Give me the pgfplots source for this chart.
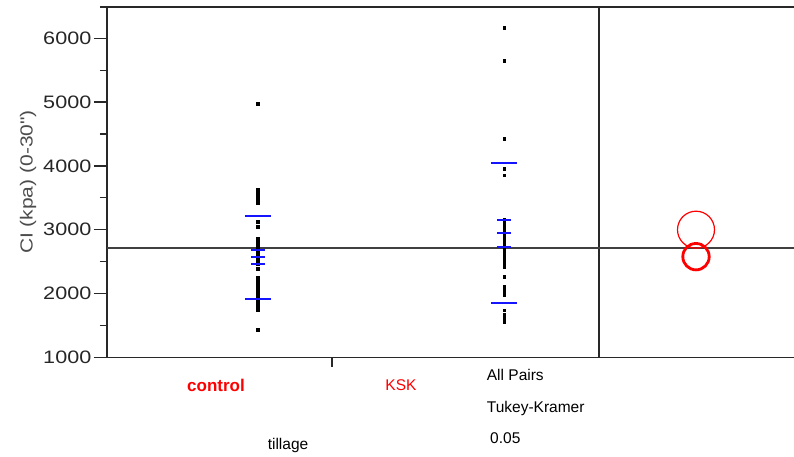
\documentclass[border=0pt]{standalone}
\usepackage{pgfplots}
\pgfplotsset{compat=1.18}
\usepackage{fontspec}
\setmainfont{Liberation Sans}
\newfontfamily\widefont[FakeStretch=1.2]{Liberation Sans}
\definecolor{axgray}{RGB}{40,40,40}
\definecolor{jmpred}{RGB}{255,0,0}
\definecolor{jmpblue}{RGB}{20,20,255}
\begin{document}
\begin{tikzpicture}
\useasboundingbox (-107pt,-99.7pt) rectangle (687pt,357.3pt);
\begin{axis}[
  at={(0pt,0pt)}, anchor=south west,
  scale only axis, width=492pt, height=350.3pt,
  xmin=107, xmax=599, ymin=1000, ymax=6490,
  ytick={1000,2000,3000,4000,5000,6000},
  minor y tick num=1,
  xtick=\empty,
  tick align=outside, ytick pos=left,
  major tick length=13pt, minor tick length=7pt,
  axis line style={line width=1.5pt, color=axgray},
  every tick/.style={line width=1.3pt, color=axgray},
  every minor tick/.style={line width=1.3pt, color=axgray},
  yticklabel style={font=\widefont\fontsize{18}{20}\selectfont, text=black!85, inner xsep=2.5pt},
  /pgf/number format/assume math mode=true,
  /pgf/number format/set thousands separator={},
  clip=false,
]
% grand mean line
\addplot[line width=1.5pt, color=black!75] coordinates {(107,2713) (599,2713)};
% control points
\addplot[only marks, mark=square*, mark size=1.4pt, mark options={fill=black, draw=black, line width=0.2pt}] coordinates {
(257.7,4981) (257.7,3622) (257.7,3582) (257.7,3542) (257.7,3502) (257.7,3462) (257.7,3423)
(257.7,3125) (257.7,3047) (257.7,2865) (257.7,2825) (257.7,2785) (257.7,2745) (257.7,2705)
(257.7,2665) (257.7,2625) (257.7,2585) (257.7,2545) (257.7,2505) (257.7,2473) (257.7,2384)
(257.7,2254) (257.7,2214) (257.7,2174) (257.7,2134) (257.7,2094) (257.7,2054) (257.7,2014)
(257.7,1974) (257.7,1934) (257.7,1894) (257.7,1854) (257.7,1814) (257.7,1774) (257.7,1741)
(257.7,1439)};
% KSK points
\addplot[only marks, mark=square*, mark size=1.4pt, mark options={fill=black, draw=black, line width=0.2pt}] coordinates {
(504,6166) (504,5644) (504,4433) (504,3962) (504,3857) (504,3152) (504,3112) (504,3072)
(504,3032) (504,2992) (504,2952) (504,2912) (504,2872) (504,2832) (504,2792) (504,2752)
(504,2712) (504,2672) (504,2632) (504,2580) (504,2540) (504,2500) (504,2460) (504,2420)
(504,2263) (504,2107) (504,2067) (504,2027) (504,1976) (504,1741) (504,1663) (504,1610)
(504,1558)};
% long blue lines (mean +/- sd)
\addplot[only marks, mark=-, mark size=12.8pt, mark options={line width=1.7pt, color=jmpblue}] coordinates {
(257.7,3219) (257.7,1909) (504,4041) (504,1846)};
% short blue lines (mean and CI)
\addplot[only marks, mark=-, mark size=6.8pt, mark options={line width=1.7pt, color=jmpblue}] coordinates {
(257.7,2682) (257.7,2577) (257.7,2462) (504,3152) (504,2944) (504,2724)};
\draw[line width=1.5pt, color=axgray] (rel axis cs:0,1) -- ++(-7pt,0pt);
\draw[line width=1.3pt, color=axgray] (axis cs:332,1000) -- ++(0pt,-10pt);
\end{axis}
\begin{axis}[
  at={(492pt,0pt)}, anchor=south west,
  scale only axis, width=195pt, height=350.3pt,
  xmin=599, xmax=794, ymin=1000, ymax=6490,
  hide axis, clip=false,
]
\addplot[line width=1.5pt, color=black!75] coordinates {(599,2713) (794,2713)};
\addplot[line width=1.5pt, color=axgray] coordinates {(599,6490) (794,6490)};
\addplot[line width=1.5pt, color=axgray] coordinates {(599,1000) (794,1000)};
\addplot[only marks, mark=o, mark size=18.5pt, mark options={line width=1.2pt, color=jmpred}] coordinates {(696,3000)};
\addplot[only marks, mark=o, mark size=13.2pt, mark options={line width=2.8pt, color=jmpred}] coordinates {(696,2577)};
\end{axis}
% texts
\node[font=\fontsize{17}{19}\selectfont\bfseries, text=jmpred] at (109pt,-27.7pt) {control};
\node[font=\fontsize{15.5}{18}\selectfont, text=jmpred] at (294pt,-27.7pt) {KSK};
\node[font=\fontsize{15.5}{18}\selectfont] at (181pt,-87.7pt) {tillage};
\node[font=\fontsize{15.5}{18}\selectfont, anchor=west, inner sep=0pt] at (379.7pt,-17.7pt) {All Pairs};
\node[font=\fontsize{15.5}{18}\selectfont, anchor=west, inner sep=0pt] at (379.7pt,-50.7pt) {Tukey-Kramer};
\node[font=\fontsize{15.5}{18}\selectfont, anchor=west, inner sep=0pt] at (383pt,-80.7pt) {0.05};
\node[font=\widefont\fontsize{17.5}{19}\selectfont, text=black!70, rotate=90] at (-79pt,175.3pt) {CI (kpa) (0-30")};
\end{tikzpicture}
\end{document}
